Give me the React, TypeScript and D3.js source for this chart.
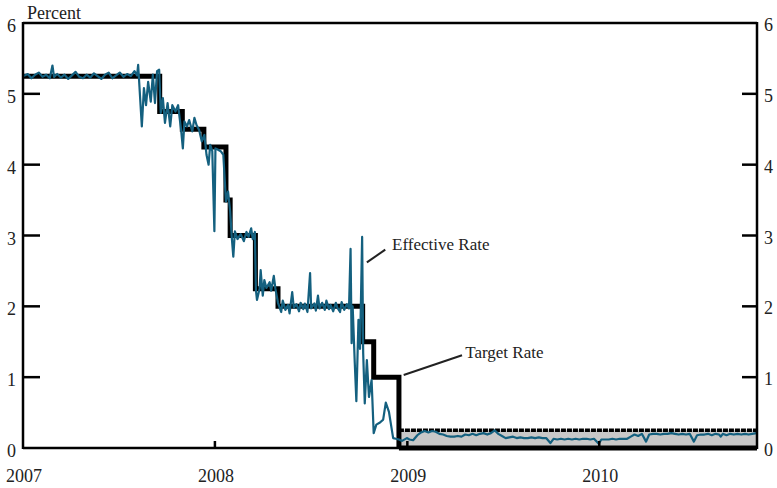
import * as d3 from "d3";

// Fed funds target (step changes) and effective rate, percent
const targetDates = [
  "2007-01-01", "2007-09-18", "2007-10-31", "2007-12-11", "2008-01-22",
  "2008-01-30", "2008-03-18", "2008-04-30", "2008-10-08", "2008-10-29", "2008-12-16",
];
const targetValues = [5.25, 4.75, 4.5, 4.25, 3.5, 3.0, 2.25, 2.0, 1.5, 1.0, 0];
const rangeStart = "2008-12-16";
const rangeLow = 0;
const rangeHigh = 0.25;

const effective2007: [string, number][] = [
  ["2007-01-01", 5.25], ["2007-01-10", 5.28], ["2007-01-17", 5.22], ["2007-01-24", 5.27],
  ["2007-01-31", 5.30], ["2007-02-07", 5.24], ["2007-02-14", 5.27], ["2007-02-21", 5.22],
  ["2007-02-26", 5.40], ["2007-03-01", 5.24], ["2007-03-07", 5.28], ["2007-03-14", 5.23],
  ["2007-03-21", 5.27], ["2007-03-28", 5.21], ["2007-04-04", 5.26], ["2007-04-11", 5.31],
  ["2007-04-18", 5.24], ["2007-04-25", 5.22], ["2007-05-02", 5.27], ["2007-05-09", 5.23],
  ["2007-05-16", 5.29], ["2007-05-23", 5.25], ["2007-05-30", 5.21], ["2007-06-06", 5.27],
  ["2007-06-13", 5.30], ["2007-06-20", 5.22], ["2007-06-27", 5.26], ["2007-07-04", 5.30],
  ["2007-07-11", 5.24], ["2007-07-18", 5.28], ["2007-07-25", 5.25], ["2007-08-01", 5.32],
  ["2007-08-06", 5.26], ["2007-08-08", 5.41], ["2007-08-15", 4.54], ["2007-08-19", 5.08],
  ["2007-08-23", 4.84], ["2007-08-27", 5.17], ["2007-09-01", 4.89], ["2007-09-05", 5.27],
  ["2007-09-09", 4.87], ["2007-09-13", 5.32], ["2007-09-17", 5.34], ["2007-09-20", 4.73],
  ["2007-09-24", 4.94], ["2007-09-28", 4.59], ["2007-10-03", 4.87], ["2007-10-08", 4.54],
  ["2007-10-12", 4.84], ["2007-10-18", 4.75], ["2007-10-23", 4.84], ["2007-10-29", 4.47],
  ["2007-11-01", 4.23], ["2007-11-04", 4.61], ["2007-11-09", 4.54], ["2007-11-13", 4.63],
  ["2007-11-19", 4.47], ["2007-11-23", 4.66], ["2007-11-27", 4.56], ["2007-12-02", 4.49],
  ["2007-12-07", 4.33], ["2007-12-12", 4.42], ["2007-12-16", 4.14], ["2007-12-20", 4.00],
  ["2007-12-23", 4.28], ["2007-12-27", 4.19], ["2007-12-31", 3.06],
];

const effective2008: [string, number][] = [
  ["2008-01-02", 4.23], ["2008-01-07", 4.21], ["2008-01-12", 4.19], ["2008-01-17", 4.14],
  ["2008-01-22", 3.48], ["2008-01-26", 3.62], ["2008-01-30", 3.34], ["2008-02-02", 2.98],
  ["2008-02-05", 2.70], ["2008-02-08", 3.06], ["2008-02-13", 2.95], ["2008-02-19", 3.02],
  ["2008-02-25", 2.92], ["2008-03-01", 3.05], ["2008-03-05", 2.98], ["2008-03-10", 3.10],
  ["2008-03-13", 2.95], ["2008-03-17", 3.05], ["2008-03-19", 2.23], ["2008-03-21", 2.09],
  ["2008-03-26", 2.25], ["2008-03-28", 2.51], ["2008-04-01", 2.15], ["2008-04-04", 2.37],
  ["2008-04-08", 2.26], ["2008-04-14", 2.34], ["2008-04-17", 2.22], ["2008-04-22", 2.43],
  ["2008-04-25", 2.25], ["2008-04-30", 2.05], ["2008-05-06", 1.92], ["2008-05-09", 2.08],
  ["2008-05-14", 1.95], ["2008-05-19", 2.02], ["2008-05-22", 1.90], ["2008-05-27", 2.20],
  ["2008-05-30", 1.98], ["2008-06-04", 2.03], ["2008-06-09", 1.93], ["2008-06-12", 2.05],
  ["2008-06-17", 1.96], ["2008-06-20", 2.04], ["2008-06-25", 1.92], ["2008-06-30", 2.47],
  ["2008-07-02", 1.97], ["2008-07-08", 2.04], ["2008-07-11", 1.94], ["2008-07-15", 2.15],
  ["2008-07-18", 1.97], ["2008-07-23", 2.05], ["2008-07-28", 1.95], ["2008-07-31", 2.08],
  ["2008-08-05", 1.96], ["2008-08-08", 2.02], ["2008-08-13", 1.93], ["2008-08-18", 2.05],
  ["2008-08-21", 1.98], ["2008-08-26", 1.92], ["2008-08-29", 2.06], ["2008-09-03", 1.95],
  ["2008-09-08", 2.03], ["2008-09-12", 1.97], ["2008-09-15", 2.81], ["2008-09-17", 1.48],
  ["2008-09-19", 2.00], ["2008-09-23", 1.20], ["2008-09-26", 0.66], ["2008-09-30", 1.81],
  ["2008-10-03", 1.40], ["2008-10-07", 2.98], ["2008-10-09", 1.34], ["2008-10-12", 0.63],
  ["2008-10-16", 1.24], ["2008-10-20", 0.72], ["2008-10-25", 0.96], ["2008-10-29", 0.21],
  ["2008-11-03", 0.33], ["2008-11-10", 0.36], ["2008-11-16", 0.40], ["2008-11-21", 0.64],
  ["2008-11-27", 0.51], ["2008-12-05", 0.14], ["2008-12-10", 0.13], ["2008-12-16", 0.12],
  ["2008-12-22", 0.10], ["2008-12-31", 0.14],
];

const effective2009: [string, number][] = [
  ["2009-01-05", 0.12], ["2009-01-12", 0.11], ["2009-01-20", 0.18], ["2009-01-27", 0.22],
  ["2009-02-03", 0.24], ["2009-02-10", 0.22], ["2009-02-17", 0.24], ["2009-02-24", 0.23],
  ["2009-03-03", 0.20], ["2009-03-10", 0.19], ["2009-03-17", 0.17], ["2009-03-24", 0.16],
  ["2009-03-31", 0.16], ["2009-04-07", 0.17], ["2009-04-14", 0.16], ["2009-04-21", 0.19],
  ["2009-04-28", 0.18], ["2009-05-05", 0.20], ["2009-05-12", 0.18], ["2009-05-19", 0.20],
  ["2009-05-26", 0.21], ["2009-06-02", 0.19], ["2009-06-09", 0.21], ["2009-06-16", 0.25],
  ["2009-06-23", 0.20], ["2009-06-30", 0.17], ["2009-07-07", 0.14], ["2009-07-14", 0.15],
  ["2009-07-21", 0.16], ["2009-07-28", 0.14], ["2009-08-04", 0.15], ["2009-08-11", 0.14],
  ["2009-08-18", 0.14], ["2009-08-25", 0.15], ["2009-09-01", 0.14], ["2009-09-08", 0.15],
  ["2009-09-15", 0.14], ["2009-09-22", 0.14], ["2009-09-30", 0.07], ["2009-10-06", 0.13],
  ["2009-10-13", 0.12], ["2009-10-20", 0.13], ["2009-10-27", 0.12], ["2009-11-03", 0.13],
  ["2009-11-10", 0.12], ["2009-11-17", 0.13], ["2009-11-24", 0.12], ["2009-12-01", 0.13],
  ["2009-12-08", 0.13], ["2009-12-15", 0.12], ["2009-12-22", 0.13], ["2009-12-31", 0.06],
];

const effective2010: [string, number][] = [
  ["2010-01-05", 0.12], ["2010-01-12", 0.12], ["2010-01-19", 0.12], ["2010-01-26", 0.13],
  ["2010-02-02", 0.12], ["2010-02-09", 0.13], ["2010-02-16", 0.13], ["2010-02-23", 0.13],
  ["2010-03-02", 0.16], ["2010-03-09", 0.19], ["2010-03-16", 0.17], ["2010-03-23", 0.20],
  ["2010-03-31", 0.09], ["2010-04-06", 0.19], ["2010-04-13", 0.20], ["2010-04-20", 0.20],
  ["2010-04-27", 0.19], ["2010-05-04", 0.20], ["2010-05-11", 0.20], ["2010-05-18", 0.21],
  ["2010-05-25", 0.20], ["2010-06-01", 0.19], ["2010-06-08", 0.20], ["2010-06-15", 0.19],
  ["2010-06-22", 0.20], ["2010-06-30", 0.09], ["2010-07-06", 0.18], ["2010-07-13", 0.19],
  ["2010-07-20", 0.19], ["2010-07-27", 0.20], ["2010-08-03", 0.18], ["2010-08-10", 0.20],
  ["2010-08-17", 0.19], ["2010-08-20", 0.16], ["2010-08-24", 0.20], ["2010-08-31", 0.18],
  ["2010-09-07", 0.20], ["2010-09-14", 0.19], ["2010-09-21", 0.20], ["2010-09-28", 0.19],
  ["2010-10-05", 0.20], ["2010-10-12", 0.19], ["2010-10-19", 0.20], ["2010-10-27", 0.21],
];

const yTicks = [0, 1, 2, 3, 4, 5, 6];
const endDate = "2010-10-28";

// callouts: [from date, from value, to date, to value], label anchor [date, value]
const effCallout: [string, number, string, number] = ["2008-10-16", 2.62, "2008-11-20", 2.8];
const effLabel: [string, number] = ["2008-12-03", 2.8];
const tgtCallout: [string, number, string, number] = ["2008-12-25", 1.03, "2009-04-15", 1.31];
const tgtLabel: [string, number] = ["2009-04-21", 1.27];

const parse = d3.timeParse("%Y-%m-%d") as (s: string) => Date;

const W = 777;
const H = 488;
const FONT = "'Liberation Serif', 'DejaVu Serif', serif";
const BLUE = "#14607f";

export default function App() {
  const x = d3
    .scaleTime()
    .domain([parse("2007-01-01"), parse(endDate)])
    .range([23, 757]);
  const y = d3.scaleLinear().domain([0, 6]).range([448, 23]);

  const effective = [...effective2007, ...effective2008, ...effective2009, ...effective2010];
  const effLine = d3
    .line<[string, number]>()
    .x((d) => x(parse(d[0])))
    .y((d) => y(d[1]));

  const targetPts = targetDates.map((d, i) => [parse(d), targetValues[i]] as [Date, number]);
  const stepLine = d3
    .line<[Date, number]>()
    .x((d) => x(d[0]))
    .y((d) => y(d[1]))
    .curve(d3.curveStepAfter);

  const bandPts: Date[] = [parse(rangeStart), parse(endDate)];
  const band = d3
    .area<Date>()
    .x((d) => x(d))
    .y0(y(rangeLow))
    .y1(y(rangeHigh));
  const flat = (v: number) =>
    d3
      .line<Date>()
      .x((d) => x(d))
      .y(() => y(v))(bandPts) as string;

  const years = x.ticks(d3.timeYear.every(1));
  const [x0, x1] = x.range();
  const [yb, yt] = y.range();

  return (
    <svg
      width={W}
      height={H}
      style={{ position: "absolute", left: 0, top: 0, background: "#fff" }}
      fontFamily={FONT}
    >
      <rect width={W} height={H} fill="#fff" />

      {/* target range band after Dec 2008 */}
      <path d={band(bandPts) as string} fill="#c8c8c8" />

      {/* target rate steps */}
      <path
        d={stepLine(targetPts) as string}
        fill="none"
        stroke="#000"
        strokeWidth={5}
        strokeLinejoin="miter"
      />
      <path d={flat(rangeLow)} stroke="#000" strokeWidth={5} fill="none" />
      <path
        d={flat(rangeHigh)}
        stroke="#000"
        strokeWidth={3.5}
        strokeDasharray="5 1"
        fill="none"
      />

      {/* effective rate */}
      <path
        d={effLine(effective) as string}
        fill="none"
        stroke={BLUE}
        strokeWidth={2.2}
        strokeLinejoin="round"
      />

      {/* frame */}
      <g stroke="#000" strokeWidth={2.5} fill="none">
        <line x1={x0} x2={x1} y1={yt} y2={yt} />
        <line x1={x0} x2={x1} y1={yb} y2={yb} />
        <line x1={x0} x2={x0} y1={yt - 1} y2={yb + 1} />
        <line x1={x1} x2={x1} y1={yt - 1} y2={yb + 1} />
      </g>

      {/* y ticks + labels both sides */}
      {yTicks.map((t) => (
        <g key={t}>
          {t > 0 && t < 6 && (
            <>
              <line x1={x0} x2={x0 + 17} y1={y(t)} y2={y(t)} stroke="#000" strokeWidth={2.5} />
              <line x1={x1 - 15} x2={x1} y1={y(t)} y2={y(t)} stroke="#000" strokeWidth={2.5} />
            </>
          )}
          <text x={11.5} y={y(t) + 9} textAnchor="middle" fontSize={18} fill="#222">
            {t}
          </text>
          <text x={764} y={y(t) + 8} textAnchor="start" fontSize={18} fill="#222">
            {t}
          </text>
        </g>
      ))}

      {/* x ticks + year labels */}
      {years.map((d) => (
        <g key={d.getFullYear()}>
          {x(d) > x0 + 1 && (
            <line x1={x(d)} x2={x(d)} y1={yb - 7} y2={yb} stroke="#000" strokeWidth={2.5} />
          )}
          <text x={x(d) + 1} y={482} textAnchor="middle" fontSize={18} fill="#222">
            {d.getFullYear()}
          </text>
        </g>
      ))}

      <text x={27} y={19} fontSize={18} fill="#222">
        Percent
      </text>

      {/* callouts */}
      <line
        x1={x(parse(effCallout[0]))}
        y1={y(effCallout[1])}
        x2={x(parse(effCallout[2]))}
        y2={y(effCallout[3])}
        stroke="#222"
        strokeWidth={2}
      />
      <text x={x(parse(effLabel[0]))} y={y(effLabel[1])} fontSize={17} fill="#222">
        Effective Rate
      </text>
      <line
        x1={x(parse(tgtCallout[0]))}
        y1={y(tgtCallout[1])}
        x2={x(parse(tgtCallout[2]))}
        y2={y(tgtCallout[3])}
        stroke="#222"
        strokeWidth={2}
      />
      <text x={x(parse(tgtLabel[0]))} y={y(tgtLabel[1])} fontSize={17} fill="#222">
        Target Rate
      </text>
    </svg>
  );
}
